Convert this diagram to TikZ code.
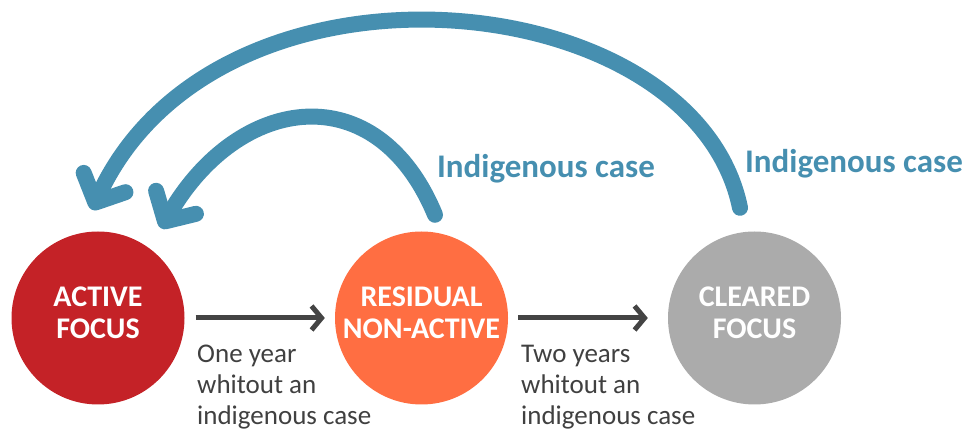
\documentclass[tikz,border=0pt]{standalone}
\usepackage{fontspec}
\setmainfont{Carlito}
\usepackage{tikz}
\usetikzlibrary{positioning, arrows.meta}

\definecolor{activered}{HTML}{C42227}
\definecolor{residualorange}{HTML}{FF6E42}
\definecolor{clearedgray}{HTML}{ABABAB}
\definecolor{casecyan}{HTML}{468FB0}
\definecolor{flowgray}{HTML}{444444}
\definecolor{notegray}{HTML}{404040}

\begin{document}
\begin{tikzpicture}[
    x=1pt, y=1pt,
    state/.style={circle, minimum size=173pt, inner sep=0pt, align=center, text=white, text depth=10pt, font=\fontsize{30}{32}\selectfont\bfseries},
    flow/.style={draw=flowgray, line width=5pt, -{Straight Barb[length=10pt,width=24pt]}},
    loopback/.style={draw=casecyan, line width=16pt, line cap=round, -{Straight Barb[length=22pt,width=46pt,round]}},
    note/.style={anchor=north west, align=left, inner sep=0pt, text=notegray, font=\fontsize{27}{31}\selectfont},
    tag/.style={text=casecyan, inner sep=0pt, font=\fontsize{33}{36}\selectfont\bfseries}]

    \useasboundingbox (0,0) rectangle (966,430);

    \node at (98,112) [state, fill=activered] (active) {ACTIVE\\FOCUS};
    \node at (421.5,112) [state, fill=residualorange] (residual) {RESIDUAL\\NON-ACTIVE};
    \node at (754.5,112) [state, fill=clearedgray] (cleared) {CLEARED\\FOCUS};

    \node at (197,85) [note] (gap1) {One year\\whitout an\\indigenous case};
    \node at (521,85) [note] (gap2) {Two years\\whitout an\\indigenous case};

    \node at (546,261) [tag] (tag1) {Indigenous case};
    \node at (854,266.5) [tag] (tag2) {Indigenous case};

    % loop ends around the circles
    \coordinate (out-residual) at ([shift={(13.5,16.5)}]residual.north);
    \coordinate (out-cleared) at ([shift={(-14.5,23.5)}]cleared.north);
    \coordinate (in-near) at ([shift={(63,3)}]active.north);
    \coordinate (in-far) at ([shift={(-6,21.5)}]active.north);

    \draw[loopback] (out-cleared) .. controls +(-46,225) and +(126,273) .. (in-far);
    \draw[loopback] (out-residual) .. controls +(-58,140) and +(78,135) .. (in-near);

    \draw[flow, shorten <=11pt, shorten >=10pt] (active) -- (residual);
    \draw[flow, shorten <=10pt, shorten >=20pt] (residual) -- (cleared);

\end{tikzpicture}
\end{document}
